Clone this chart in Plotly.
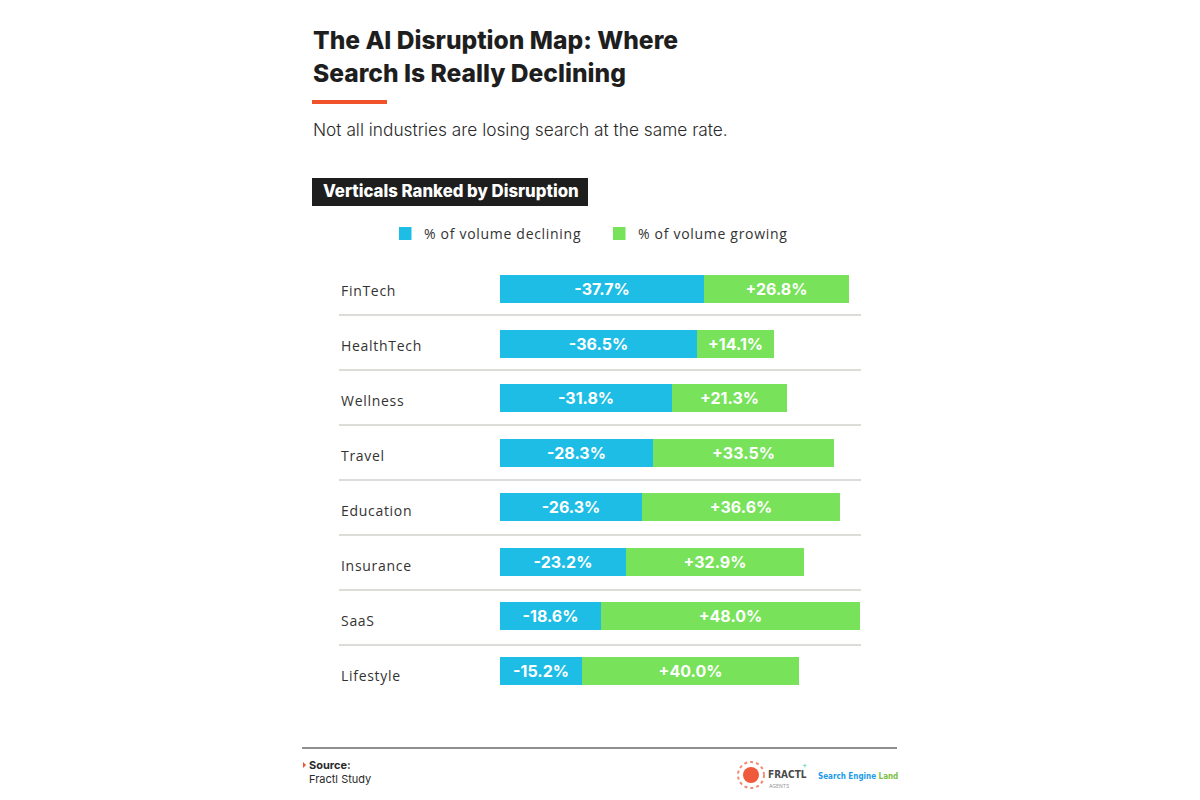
import plotly.graph_objects as go

categories = ["FinTech", "HealthTech", "Wellness", "Travel", "Education", "Insurance", "SaaS", "Lifestyle"]
declining = [37.7, 36.5, 31.8, 28.3, 26.3, 23.2, 18.6, 15.2]
growing = [26.8, 14.1, 21.3, 33.5, 36.6, 32.9, 48.0, 40.0]
series_names = ["% of volume declining", "% of volume growing"]

W, H = 1200, 800
BLUE = "#1dbde6"
GREEN = "#77e25a"
FONT = "Inter"
LABEL_FONT = "Open Sans"

def px(x):
    return x / W

def py(y):
    return 1 - y / H

def spaced(t, ls=0.7):
    return f"<span style='letter-spacing:{ls}px'>{t}</span>"

fig = go.Figure()
for vals, name, color, sign in [(declining, series_names[0], BLUE, "-"), (growing, series_names[1], GREEN, "+")]:
    fig.add_trace(go.Bar(
        y=categories, x=vals, orientation="h", name=name,
        marker=dict(color=color, line=dict(width=0)),
        text=[f"{sign}{v:.1f}%" for v in vals], textposition="inside",
        insidetextanchor="middle",
        textfont=dict(color="white", size=16, family=FONT, weight=700),
        width=0.52, hoverinfo="skip", showlegend=False,
    ))

shapes = []
annotations = []

# separators between rows
for i in range(len(categories) - 1):
    yy = 315 + 55 * i
    shapes.append(dict(type="line", xref="paper", yref="paper", x0=px(339), x1=px(861),
                       y0=py(yy), y1=py(yy), line=dict(color="#d0d0cc", width=1.5), layer="below"))

# category labels
for i, c in enumerate(categories):
    annotations.append(dict(xref="paper", yref="y", x=px(339), y=c, text=spaced(c), showarrow=False,
                            xanchor="left", yanchor="middle", yshift=-(1 + 0.57 * i),
                            font=dict(family=LABEL_FONT, size=14, color="#333333")))

# legend (manual)
for name, color, x0 in [(series_names[0], BLUE, 399), (series_names[1], GREEN, 613)]:
    shapes.append(dict(type="rect", xref="paper", yref="paper", x0=px(x0), x1=px(x0 + 12.5),
                       y0=py(240), y1=py(227), fillcolor=color, line=dict(width=0)))
    annotations.append(dict(xref="paper", yref="paper", x=px(x0 + 23), y=py(233.5), text=spaced(name),
                            showarrow=False, xanchor="left", yanchor="middle",
                            font=dict(family=LABEL_FONT, size=14, color="#333333")))

# title
annotations.append(dict(xref="paper", yref="paper", x=px(311), y=py(40), text="The AI Disruption Map: Where",
                        showarrow=False, xanchor="left", yanchor="middle",
                        font=dict(family=FONT, size=24.6, color="#1e1e1e", weight=800)))
annotations.append(dict(xref="paper", yref="paper", x=px(311), y=py(73), text="Search Is Really Declining",
                        showarrow=False, xanchor="left", yanchor="middle",
                        font=dict(family=FONT, size=24.6, color="#1e1e1e", weight=800)))
shapes.append(dict(type="rect", xref="paper", yref="paper", x0=px(312), x1=px(387), y0=py(100), y1=py(104),
                   fillcolor="#f0522a", line=dict(width=0)))
annotations.append(dict(xref="paper", yref="paper", x=px(311), y=py(129),
                        text="Not all industries are losing search at the same rate.",
                        showarrow=False, xanchor="left", yanchor="middle",
                        font=dict(family=FONT, size=17.3, color="#2a2a2a", weight=300)))

# section box
shapes.append(dict(type="rect", xref="paper", yref="paper", x0=px(312), x1=px(588), y0=py(206), y1=py(178),
                   fillcolor="#1e1e1e", line=dict(width=0)))
annotations.append(dict(xref="paper", yref="paper", x=px(321), y=py(191), text="Verticals Ranked by Disruption",
                        showarrow=False, xanchor="left", yanchor="middle",
                        font=dict(family=FONT, size=16.8, color="white", weight=800)))

# footer
shapes.append(dict(type="line", xref="paper", yref="paper", x0=px(302), x1=px(897), y0=py(748), y1=py(748),
                   line=dict(color="#6a6a6a", width=1.5)))
shapes.append(dict(type="path", xref="paper", yref="paper",
                   path=f"M {px(303)} {py(762)} L {px(306)} {py(765)} L {px(303)} {py(768)} Z",
                   fillcolor="#f0522a", line=dict(width=0)))
annotations.append(dict(xref="paper", yref="paper", x=px(307), y=py(765), text="<b>Source:</b>",
                        showarrow=False, xanchor="left", yanchor="middle",
                        font=dict(family=FONT, size=11, color="#2a2a2a")))
annotations.append(dict(xref="paper", yref="paper", x=px(307), y=py(779), text="Fractl Study",
                        showarrow=False, xanchor="left", yanchor="middle",
                        font=dict(family=FONT, size=11, color="#2a2a2a")))
# Fractl logo
shapes.append(dict(type="circle", xref="paper", yref="paper", x0=px(738), x1=px(764), y0=py(788), y1=py(762),
                   fillcolor="rgba(0,0,0,0)", line=dict(color="#f08a70", width=2, dash="dot")))
shapes.append(dict(type="circle", xref="paper", yref="paper", x0=px(743), x1=px(759), y0=py(783), y1=py(767),
                   fillcolor="#ef5a3c", line=dict(width=0)))
annotations.append(dict(xref="paper", yref="paper", x=px(766), y=py(774), text="<b>FRACTL</b>",
                        showarrow=False, xanchor="left", yanchor="middle",
                        font=dict(family="DejaVu Sans Condensed", size=10, color="#4a4a4a")))
annotations.append(dict(xref="paper", yref="paper", x=px(767), y=py(786), text="AGENTS",
                        showarrow=False, xanchor="left", yanchor="middle",
                        font=dict(family=FONT, size=5, color="#999999")))
annotations.append(dict(xref="paper", yref="paper", x=px(805), y=py(765), text="+",
                        showarrow=False, xanchor="center", yanchor="middle",
                        font=dict(family=FONT, size=8, color="#3cd6a0")))
annotations.append(dict(xref="paper", yref="paper", x=px(816), y=py(776),
                        text="<b><span style='color:#1b9be8'>Search Engine </span><span style='color:#7ac143'>Land</span></b>",
                        showarrow=False, xanchor="left", yanchor="middle",
                        font=dict(family="DejaVu Sans Condensed", size=8.0)))

fig.update_layout(
    width=W, height=H,
    margin=dict(l=0, r=0, t=0, b=0),
    paper_bgcolor="white", plot_bgcolor="white",
    barmode="stack", bargap=0,
    showlegend=False,
    xaxis=dict(domain=[px(500), px(870)], range=[0, 370 / 5.41], visible=False, fixedrange=True),
    yaxis=dict(domain=[py(697.75), py(261.75)], range=[7.5, -0.5], visible=False,
               categoryorder="array", categoryarray=categories, fixedrange=True),
    shapes=shapes, annotations=annotations,
)

fig.write_html("out.html")
